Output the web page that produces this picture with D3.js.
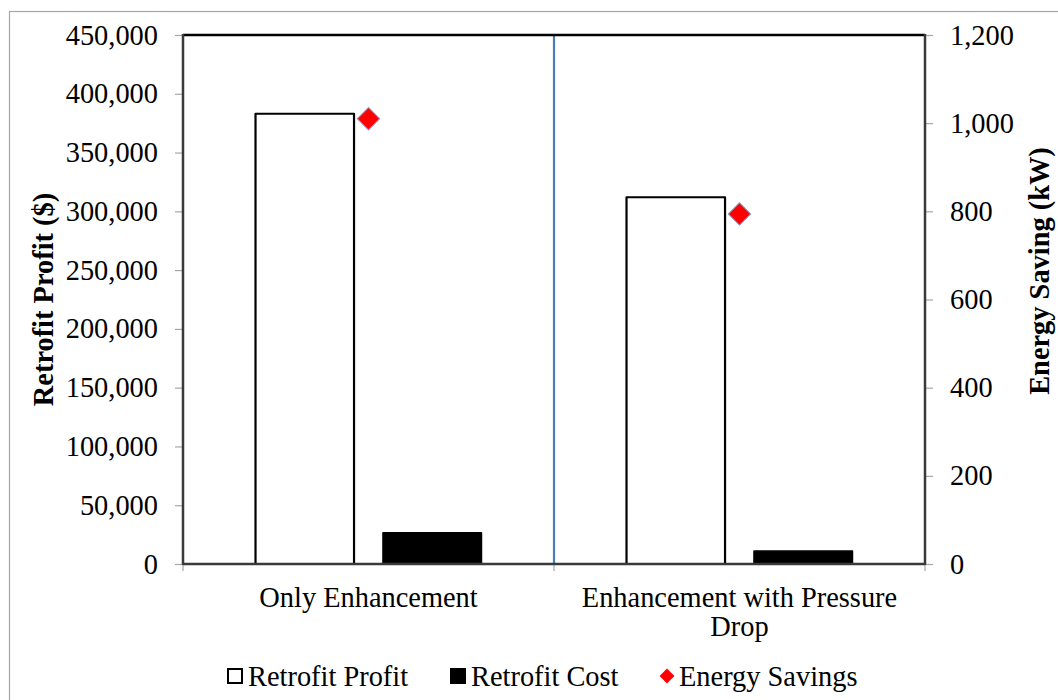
<!DOCTYPE html>
<html>
<head>
<meta charset="utf-8">
<script src="https://cdn.jsdelivr.net/npm/d3@7"></script>
<style>
  html, body { margin: 0; padding: 0; background: #ffffff; }
  svg { display: block; }
  text { font-family: "Liberation Serif", "Times New Roman", serif; fill: #000; }
</style>
</head>
<body>
<svg id="chart" width="1058" height="700"></svg>
<script>
// Retrofit options compared
const categories = ["Only Enhancement", "Enhancement with Pressure Drop"];
const retrofitProfit = [383000, 312000];   // $
const retrofitCost = [26500, 11000];       // $
const energySavings = [1010, 794];         // kW

const leftTicks = [0, 50000, 100000, 150000, 200000, 250000, 300000, 350000, 400000, 450000];
const rightTicks = [0, 200, 400, 600, 800, 1000, 1200];

const seriesNames = ["Retrofit Profit", "Retrofit Cost", "Energy Savings"];

const svg = d3.select("#chart");
const W = 1058, H = 700;
const plot = { left: 183, right: 925, top: 35, bottom: 564 };
const fontSize = 28.4;
const fmt = d3.format(",");

// outer chart frame
svg.append("rect")
  .attr("x", 9.5).attr("y", 11.5)
  .attr("width", W + 20).attr("height", H + 20)
  .attr("fill", "#fff").attr("stroke", "#a6a6a6").attr("stroke-width", 1.2);

const x = d3.scaleBand().domain(categories).range([plot.left, plot.right]).padding(0);
const sub = d3.scaleBand().domain(["profit", "cost"]).range([0, x.bandwidth()])
  .paddingInner(0.227).paddingOuter(0.569);
const yL = d3.scaleLinear().domain([0, 450000]).range([plot.bottom, plot.top]);
const yR = d3.scaleLinear().domain([0, 1200]).range([plot.bottom, plot.top]);

// divider between the two cases
svg.append("line")
  .attr("x1", x(categories[1])).attr("x2", x(categories[1]))
  .attr("y1", plot.top).attr("y2", plot.bottom)
  .attr("stroke", "#4a7ebb").attr("stroke-width", 2.2);

// bars
const g = svg.append("g");
categories.forEach((c, i) => {
  g.append("rect")
    .attr("x", x(c) + sub("profit")).attr("width", sub.bandwidth())
    .attr("y", yL(retrofitProfit[i])).attr("height", yL(0) - yL(retrofitProfit[i]))
    .attr("fill", "#fff").attr("stroke", "#000").attr("stroke-width", 2.2)
    .attr("stroke-linejoin", "round");
  g.append("rect")
    .attr("x", x(c) + sub("cost")).attr("width", sub.bandwidth())
    .attr("y", yL(retrofitCost[i])).attr("height", yL(0) - yL(retrofitCost[i]))
    .attr("fill", "#000").attr("stroke", "#000").attr("stroke-width", 1.5)
    .attr("stroke-linejoin", "round");
});

// axes
const axL = svg.append("g").attr("transform", `translate(${plot.left},0)`)
  .call(d3.axisLeft(yL).tickValues(leftTicks).tickFormat(fmt).tickSizeOuter(0).tickSizeInner(8).tickPadding(17));
const axR = svg.append("g").attr("transform", `translate(${plot.right},0)`)
  .call(d3.axisRight(yR).tickValues(rightTicks).tickFormat(fmt).tickSizeOuter(0).tickSizeInner(8).tickPadding(17));
const xTicks = [plot.left, x(categories[1]), plot.right];

[axL, axR].forEach(a => {
  a.select(".domain").remove();
  a.selectAll(".tick line").attr("stroke", "#a6a6a6").attr("stroke-width", 1.2);
  a.selectAll(".tick text").attr("font-size", fontSize).attr("fill", "#000")
    .attr("font-family", "Liberation Serif, Times New Roman, serif");
});

// bottom tick marks at category boundaries
svg.append("g").selectAll("line").data(xTicks).join("line")
  .attr("x1", d => d).attr("x2", d => d)
  .attr("y1", plot.bottom).attr("y2", plot.bottom + 7)
  .attr("stroke", "#a6a6a6").attr("stroke-width", 1.2);

// plot frame
svg.append("line").attr("x1", plot.left).attr("x2", plot.right)
  .attr("y1", plot.top).attr("y2", plot.top).attr("stroke", "#000").attr("stroke-width", 2.5);
svg.append("line").attr("x1", plot.left).attr("x2", plot.left)
  .attr("y1", plot.top - 1).attr("y2", plot.bottom + 1).attr("stroke", "#3a3a3a").attr("stroke-width", 2.5);
svg.append("line").attr("x1", plot.right).attr("x2", plot.right)
  .attr("y1", plot.top - 1).attr("y2", plot.bottom + 1).attr("stroke", "#3a3a3a").attr("stroke-width", 2.5);
svg.append("line").attr("x1", plot.left).attr("x2", plot.right)
  .attr("y1", plot.bottom).attr("y2", plot.bottom).attr("stroke", "#3a3a3a").attr("stroke-width", 2.5);

// energy savings markers
const diamond = d3.symbol().type(d3.symbolSquare).size(250);
svg.append("g").selectAll("path").data(energySavings).join("path")
  .attr("d", diamond)
  .attr("transform", (d, i) => `translate(${x(categories[i]) + x.bandwidth() / 2},${yR(d)}) rotate(45)`)
  .attr("fill", "#ff0000").attr("stroke", "#7f9fd0").attr("stroke-width", 1);

// category labels, wrapped to the band width
const catLabels = svg.append("g");
categories.forEach(c => {
  const cx = x(c) + x.bandwidth() / 2;
  const t = catLabels.append("text")
    .attr("x", cx).attr("y", 607)
    .attr("text-anchor", "middle").attr("font-size", fontSize);
  const words = c.split(" ");
  let line = [];
  let ts = t.append("tspan").attr("x", cx).attr("dy", 0);
  words.forEach(w => {
    line.push(w);
    ts.text(line.join(" "));
    if (ts.node().getComputedTextLength() > x.bandwidth() - 30 && line.length > 1) {
      line.pop();
      ts.text(line.join(" "));
      line = [w];
      ts = t.append("tspan").attr("x", cx).attr("dy", 29).text(w);
    }
  });
});

// axis titles
svg.append("text")
  .attr("transform", `translate(53,${(plot.top + plot.bottom) / 2}) rotate(-90)`)
  .attr("text-anchor", "middle").attr("font-size", fontSize).attr("font-weight", "bold")
  .text("Retrofit Profit ($)");
svg.append("text")
  .attr("transform", `translate(1049,271) rotate(-90)`)
  .attr("text-anchor", "middle").attr("font-size", fontSize).attr("font-weight", "bold")
  .text("Energy Saving (kW)");

// legend
const legend = svg.append("g");
const ly = 676;
const items = [
  { name: seriesNames[0], x: 228, kind: "open" },
  { name: seriesNames[1], x: 451, kind: "solid" },
  { name: seriesNames[2], x: 659, kind: "diamond" }
];
items.forEach(it => {
  if (it.kind === "diamond") {
    legend.append("path")
      .attr("d", d3.symbol().type(d3.symbolSquare).size(110)())
      .attr("transform", `translate(${it.x + 8},${ly}) rotate(45)`)
      .attr("fill", "#ff0000");
  } else {
    legend.append("rect")
      .attr("x", it.x).attr("y", ly - 7).attr("width", 14).attr("height", 14)
      .attr("fill", it.kind === "open" ? "#fff" : "#000")
      .attr("stroke", "#000").attr("stroke-width", 2);
  }
  legend.append("text")
    .attr("x", it.x + 20).attr("y", ly + 10)
    .attr("font-size", fontSize).text(it.name);
});
</script>
</body>
</html>
